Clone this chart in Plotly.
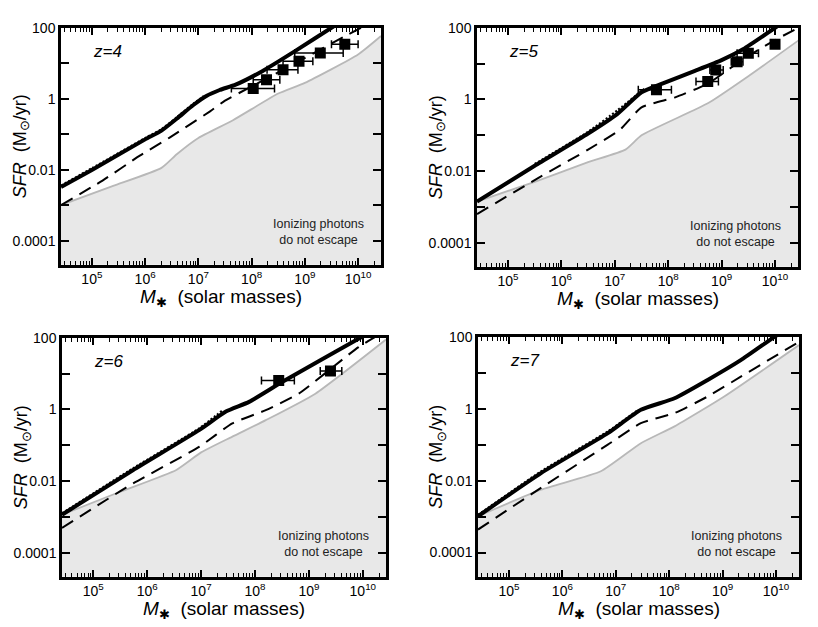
import plotly.graph_objects as go

# ---- data (log10 stellar mass, log10 SFR) ----
z4_solid_m = [4.42, 5.0, 6.0, 6.3, 6.6, 6.9, 7.15, 7.4, 7.7, 8.2, 8.8, 9.55, 10.43]
z4_solid_s = [-2.48, -2.0, -1.14, -0.9, -0.55, -0.18, 0.08, 0.25, 0.4, 0.78, 1.33, 2.05, 2.85]
z4_dash_m = [4.42, 5.2, 5.9, 6.46, 7.22, 7.5, 8.0, 8.9, 9.8, 10.43]
z4_dash_s = [-2.99, -2.3, -1.6, -1.09, -0.35, -0.05, 0.35, 1.07, 1.8, 2.3]
z4_gray_m = [4.42, 5.4, 6.3, 6.6, 7.0, 7.65, 8.5, 9.0, 10.0, 10.43]
z4_gray_s = [-2.99, -2.45, -1.95, -1.55, -1.1, -0.6, 0.15, 0.45, 1.25, 1.77]
z4_dot_m = [4.42, 5.0, 6.0, 6.3, 6.6, 6.9, 7.1]
z4_dot_s = [-2.44, -1.95, -1.1, -0.86, -0.51, -0.14, 0.08]
z4_pts_m = [8.03, 8.28, 8.59, 8.89, 9.29, 9.75]
z4_pts_s = [0.29, 0.54, 0.82, 1.06, 1.29, 1.54]
z4_pts_lo = [7.62, 8.03, 8.29, 8.59, 8.81, 9.5]
z4_pts_hi = [8.43, 8.53, 8.87, 9.15, 9.72, 10.0]

z5_solid_m = [4.42, 5.5, 6.5, 7.05, 7.5, 7.9, 8.5, 9.0, 9.4, 10.0, 10.43]
z5_solid_s = [-2.85, -1.85, -0.95, -0.4, 0.2, 0.45, 0.8, 1.1, 1.4, 2.0, 2.45]
z5_dash_m = [4.42, 5.5, 6.5, 7.1, 7.5, 8.13, 8.75, 9.38, 10.0, 10.44]
z5_dash_s = [-3.2, -2.25, -1.4, -0.84, -0.22, 0.06, 0.45, 1.1, 1.66, 2.0]
z5_gray_m = [4.42, 5.5, 6.5, 7.2, 7.5, 8.75, 9.5, 10.44]
z5_gray_s = [-2.85, -2.3, -1.75, -1.4, -1.0, -0.1, 0.65, 1.65]
z5_dot_m = [5.5, 6.5, 7.05, 7.55]
z5_dot_s = [-1.8, -0.9, -0.3, 0.3]
z5_pts_m = [7.78, 8.74, 8.89, 9.29, 9.5, 10.0]
z5_pts_s = [0.27, 0.50, 0.82, 1.05, 1.29, 1.54]
z5_pts_lo = [7.44, 8.52, 8.78, 9.18, 9.29, 9.95]
z5_pts_hi = [8.06, 8.94, 9.03, 9.40, 9.69, 10.05]

z6_solid_m = [4.42, 5.74, 6.97, 7.46, 7.89, 8.51, 9.92, 10.43]
z6_solid_s = [-2.94, -1.69, -0.57, -0.06, 0.21, 0.77, 1.97, 2.4]
z6_dash_m = [4.42, 5.7, 6.97, 7.58, 8.2, 8.81, 9.92, 10.43]
z6_dash_s = [-3.31, -2.1, -1.04, -0.39, -0.02, 0.44, 1.74, 2.2]
z6_gray_m = [4.42, 5.5, 6.54, 7.0, 7.58, 8.2, 9.12, 10.43]
z6_gray_s = [-2.94, -2.3, -1.69, -1.2, -0.76, -0.3, 0.44, 1.95]
z6_dot_m = [4.42, 5.74, 6.97, 7.4]
z6_dot_s = [-2.9, -1.64, -0.52, -0.02]
z6_pts_m = [8.44, 9.40]
z6_pts_s = [0.81, 1.07]
z6_pts_lo = [8.12, 9.21]
z6_pts_hi = [8.73, 9.61]

z7_solid_m = [4.42, 5.6, 6.85, 7.47, 8.1, 8.72, 9.34, 9.97, 10.43]
z7_solid_s = [-2.99, -1.79, -0.68, -0.03, 0.29, 0.8, 1.35, 2.0, 2.45]
z7_dash_m = [4.42, 5.6, 6.85, 7.47, 8.1, 8.72, 9.34, 10.43]
z7_dash_s = [-3.36, -2.2, -1.0, -0.4, -0.12, 0.34, 0.89, 1.86]
z7_gray_m = [4.42, 5.6, 6.72, 7.47, 8.1, 9.03, 10.43]
z7_gray_s = [-2.99, -2.25, -1.74, -0.96, -0.49, 0.34, 1.77]
z7_dot_m = [4.42, 5.6, 6.85, 7.4]
z7_dot_s = [-2.95, -1.74, -0.63, -0.05]

x_tick_vals = [1e5, 1e6, 1e7, 1e8, 1e9, 1e10]
x_tick_text = ["10<sup>5</sup>", "10<sup>6</sup>", "10<sup>7</sup>", "10<sup>8</sup>", "10<sup>9</sup>", "10<sup>10</sup>"]
y_tick_vals = [1e-4, 1e-3, 1e-2, 1e-1, 1, 10, 100]
y_tick_text = ["0.0001", "", "0.01", "", "1", "", "100"]

# page body adds 8px around the plot, so the figure is drawn 8px smaller
OFF = 8
W, H = 818 - OFF, 627 - OFF
FONT = "Liberation Sans, Arial, sans-serif"

panels = [
    dict(z=4, box=(61, 381, 20, 260),
         solid=(z4_solid_m, z4_solid_s), dash=(z4_dash_m, z4_dash_s), gray=(z4_gray_m, z4_gray_s),
         dot=(z4_dot_m, z4_dot_s), pts=(z4_pts_m, z4_pts_s, z4_pts_lo, z4_pts_hi)),
    dict(z=5, box=(477, 798, 20, 262),
         solid=(z5_solid_m, z5_solid_s), dash=(z5_dash_m, z5_dash_s), gray=(z5_gray_m, z5_gray_s),
         dot=(z5_dot_m, z5_dot_s), pts=(z5_pts_m, z5_pts_s, z5_pts_lo, z5_pts_hi)),
    dict(z=6, box=(62, 386, 334, 576),
         solid=(z6_solid_m, z6_solid_s), dash=(z6_dash_m, z6_dash_s), gray=(z6_gray_m, z6_gray_s),
         dot=(z6_dot_m, z6_dot_s), pts=(z6_pts_m, z6_pts_s, z6_pts_lo, z6_pts_hi)),
    dict(z=7, box=(478, 799, 333, 576),
         solid=(z7_solid_m, z7_solid_s), dash=(z7_dash_m, z7_dash_s), gray=(z7_gray_m, z7_gray_s),
         dot=(z7_dot_m, z7_dot_s), pts=None),
]

minor_vals = [k * 10 ** n for n in range(4, 11) for k in range(2, 10)]


def lin(vals):
    return [10 ** v for v in vals]


def px(x):
    return (x - OFF) / W


def py(y):
    return 1 - (y - OFF) / H


fig = go.Figure()
annotations = []

for i, p in enumerate(panels):
    n = "" if i == 0 else str(i + 1)
    xa, ya = "x" + n, "y" + n
    x0, x1, ytop, ybot = p["box"]

    # gray "no escape" region: baseline + gray boundary filled down to it
    gm, gs = p["gray"]
    fig.add_trace(go.Scatter(x=lin(gm), y=[1e-7] * len(gm), mode="lines", line=dict(width=0),
                             hoverinfo="skip", showlegend=False, xaxis=xa, yaxis=ya))
    fig.add_trace(go.Scatter(x=lin(gm), y=lin(gs), mode="lines", fill="tonexty", fillcolor="#e8e8e8",
                             line=dict(color="#b8b8b8", width=1.8, shape="spline", smoothing=0.5),
                             showlegend=False, xaxis=xa, yaxis=ya))
    dm, ds = p["dash"]
    fig.add_trace(go.Scatter(x=lin(dm), y=lin(ds), mode="lines",
                             line=dict(color="black", width=2, dash="13px,8px", shape="spline", smoothing=0.5),
                             showlegend=False, xaxis=xa, yaxis=ya))
    sm, ss = p["solid"]
    fig.add_trace(go.Scatter(x=lin(sm), y=lin(ss), mode="lines",
                             line=dict(color="black", width=4, shape="spline", smoothing=0.5),
                             showlegend=False, xaxis=xa, yaxis=ya))
    om, os_ = p["dot"]
    fig.add_trace(go.Scatter(x=lin(om), y=lin(os_), mode="lines",
                             line=dict(color="black", width=2, dash="2px,2px", shape="spline", smoothing=0.5),
                             showlegend=False, xaxis=xa, yaxis=ya))
    if p["pts"]:
        pm, ps, plo, phi = p["pts"]
        xs = lin(pm)
        fig.add_trace(go.Scatter(
            x=xs, y=lin(ps), mode="markers",
            marker=dict(symbol="square", size=11, color="black"),
            error_x=dict(type="data", symmetric=False,
                         array=[10 ** h - x for h, x in zip(phi, xs)],
                         arrayminus=[x - 10 ** l for l, x in zip(plo, xs)],
                         color="black", thickness=1.5, width=4),
            showlegend=False, xaxis=xa, yaxis=ya))

    fig.update_layout({
        "xaxis" + n: dict(domain=[px(x0), px(x1)], anchor=ya, type="log", range=[4.42, 10.43],
                          tickmode="array", tickvals=x_tick_vals, ticktext=x_tick_text,
                          ticks="inside", ticklen=7, tickwidth=1.5, tickcolor="black",
                          minor=dict(tickmode="array", tickvals=minor_vals, ticks="inside",
                                     ticklen=4, tickwidth=1.2, tickcolor="black", showgrid=False),
                          showline=True, linewidth=2.5, linecolor="black", mirror="allticks",
                          showgrid=False, zeroline=False,
                          tickfont=dict(family=FONT, size=14, color="black")),
        "yaxis" + n: dict(domain=[py(ybot), py(ytop)], anchor=xa, type="log", range=[-4.67, 2],
                          tickmode="array", tickvals=y_tick_vals, ticktext=y_tick_text,
                          ticks="inside", ticklen=8, tickwidth=1.5, tickcolor="black",
                          showline=True, linewidth=2.5, linecolor="black", mirror="allticks",
                          showgrid=False, zeroline=False,
                          tickfont=dict(family=FONT, size=14, color="black")),
    })

    annotations += [
        dict(text="<i>z=%d</i>" % p["z"], xref="paper", yref="paper",
             x=px(x0 + 30), y=py(ytop + 24), xanchor="left", yanchor="middle",
             showarrow=False, font=dict(family=FONT, size=17, color="black")),
        dict(text="Ionizing photons<br>do not escape", xref="paper", yref="paper",
             x=px(x1 - 63), y=py(ybot - 33), xanchor="center", yanchor="middle",
             showarrow=False, align="center", font=dict(family=FONT, size=12.5, color="#222222")),
        dict(text="<i>M</i><sub>✱</sub>  (solar masses)", xref="paper", yref="paper",
             x=px((x0 + x1) / 2), y=py(ybot + 34), xanchor="center", yanchor="middle",
             showarrow=False, font=dict(family=FONT, size=19, color="black")),
        dict(text="<i>SFR</i>  (M<sub>⊙</sub>/yr)", xref="paper", yref="paper",
             x=px(x0 - 40), y=py((ytop + ybot) / 2), xanchor="center", yanchor="middle",
             textangle=-90, showarrow=False, font=dict(family=FONT, size=18, color="black")),
    ]

fig.update_layout(width=W, height=H, margin=dict(l=0, r=0, t=0, b=0),
                  paper_bgcolor="white", plot_bgcolor="white",
                  annotations=annotations, showlegend=False)

fig.write_html("out.html")
